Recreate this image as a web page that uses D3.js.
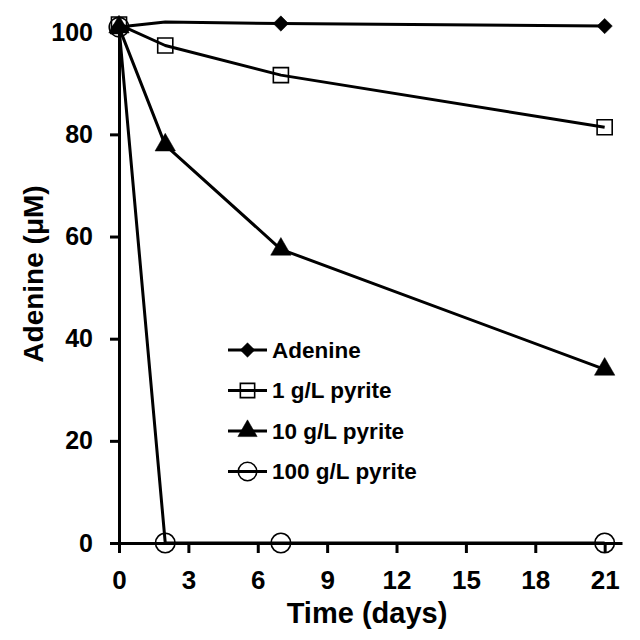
<!DOCTYPE html>
<html>
<head>
<meta charset="utf-8">
<script src="https://cdn.jsdelivr.net/npm/d3@7"></script>
<style>
  body { margin: 0; background: #fff; }
  text { font-family: "Liberation Sans", Arial, sans-serif; font-weight: bold; }
</style>
</head>
<body>
<div id="container"></div>
<script>
"use strict";

const days = [0, 2, 7, 21];
const adenine = [101, 102, 101.7, 101.2];
const pyrite1 = [101.5, 97.4, 91.6, 81.4];
const pyrite10 = [101, 77.9, 57.5, 34];
const pyrite100 = [101, 0, 0, 0];
// the day-2 adenine point has no marker in the original
const adenineMarked = [true, false, true, true];

const seriesNames = ["Adenine", "1 g/L pyrite", "10 g/L pyrite", "100 g/L pyrite"];
const xTicks = [0, 3, 6, 9, 12, 15, 18, 21];
const yTicks = [0, 20, 40, 60, 80, 100];

const width = 640;
const height = 640;

const x = d3.scaleLinear().domain([0, 21.75]).range([119, 622]);
const y = d3.scaleLinear().domain([0, 102]).range([543, 22]);

const svg = d3.select("#container").append("svg")
  .attr("width", width)
  .attr("height", height);

// Symbols for each series.
const symbols = [
  { type: d3.symbolDiamond2, size: 150, fill: "#000" },
  { type: d3.symbolSquare2, size: 290, fill: "none" },
  { type: d3.symbolTriangle, size: 180, fill: "#000" },
  { type: d3.symbolCircle, size: 300, fill: "none" }
];

const series = [
  { name: seriesNames[0], values: adenine, marked: adenineMarked },
  { name: seriesNames[1], values: pyrite1 },
  { name: seriesNames[2], values: pyrite10 },
  { name: seriesNames[3], values: pyrite100 }
];

// Axes.
const xAxis = svg.append("g")
  .attr("transform", `translate(0, ${y(0)})`)
  .call(d3.axisBottom(x).tickValues(xTicks).tickSize(10).tickPadding(18).tickSizeOuter(0));
xAxis.select(".domain").attr("stroke-width", 3);
xAxis.selectAll(".tick line").attr("stroke-width", 3);
xAxis.selectAll("text").style("font-size", "26px").attr("fill", "#000");

const yAxis = svg.append("g")
  .attr("transform", `translate(${x(0)}, 0)`)
  .call(d3.axisLeft(y).tickValues(yTicks).tickSize(9).tickPadding(17).tickSizeOuter(0));
yAxis.select(".domain").attr("stroke-width", 3);
yAxis.selectAll(".tick line").attr("stroke-width", 3);
yAxis.selectAll("text").style("font-size", "25px").attr("fill", "#000");

// Lines.
const line = d3.line()
  .x((d, i) => x(days[i]))
  .y((d) => y(d));

series.forEach((s) => {
  svg.append("path")
    .datum(s.values)
    .attr("fill", "none")
    .attr("stroke", "#000")
    .attr("stroke-width", 3)
    .attr("stroke-linejoin", "round")
    .attr("d", line);
});

// Markers.
series.forEach((s, k) => {
  const sym = symbols[k];
  const pts = s.values.map((v, i) => ({ d: days[i], v: v, show: s.marked ? s.marked[i] : true }))
    .filter((p) => p.show);
  svg.selectAll(`.m${k}`)
    .data(pts)
    .enter()
    .append("path")
    .attr("transform", (p) => `translate(${x(p.d)}, ${y(p.v)})`)
    .attr("d", d3.symbol().type(sym.type).size(sym.size))
    .attr("fill", sym.fill)
    .attr("stroke", "#000")
    .attr("stroke-width", sym.fill === "none" ? 1.6 : 0.5);
});

// Legend.
const legend = svg.append("g").attr("transform", "translate(228, 350)");
series.forEach((s, k) => {
  const sym = symbols[k];
  const row = legend.append("g").attr("transform", `translate(0, ${k * 40.5})`);
  row.append("line")
    .attr("x1", 0).attr("x2", 39)
    .attr("stroke", "#000").attr("stroke-width", 3);
  row.append("path")
    .attr("transform", "translate(19.5, 0)")
    .attr("d", d3.symbol().type(sym.type).size(sym.size * 0.9))
    .attr("fill", sym.fill)
    .attr("stroke", "#000")
    .attr("stroke-width", sym.fill === "none" ? 1.6 : 0.5);
  row.append("text")
    .attr("x", 44)
    .attr("dy", "0.35em")
    .style("font-size", "22.5px")
    .text(s.name);
});

// Axis titles.
svg.append("text")
  .attr("x", 367)
  .attr("y", 623)
  .attr("text-anchor", "middle")
  .style("font-size", "29px")
  .text("Time (days)");

svg.append("text")
  .attr("transform", "translate(43, 274) rotate(-90)")
  .attr("text-anchor", "middle")
  .style("font-size", "28px")
  .text("Adenine (μM)");
</script>
</body>
</html>
